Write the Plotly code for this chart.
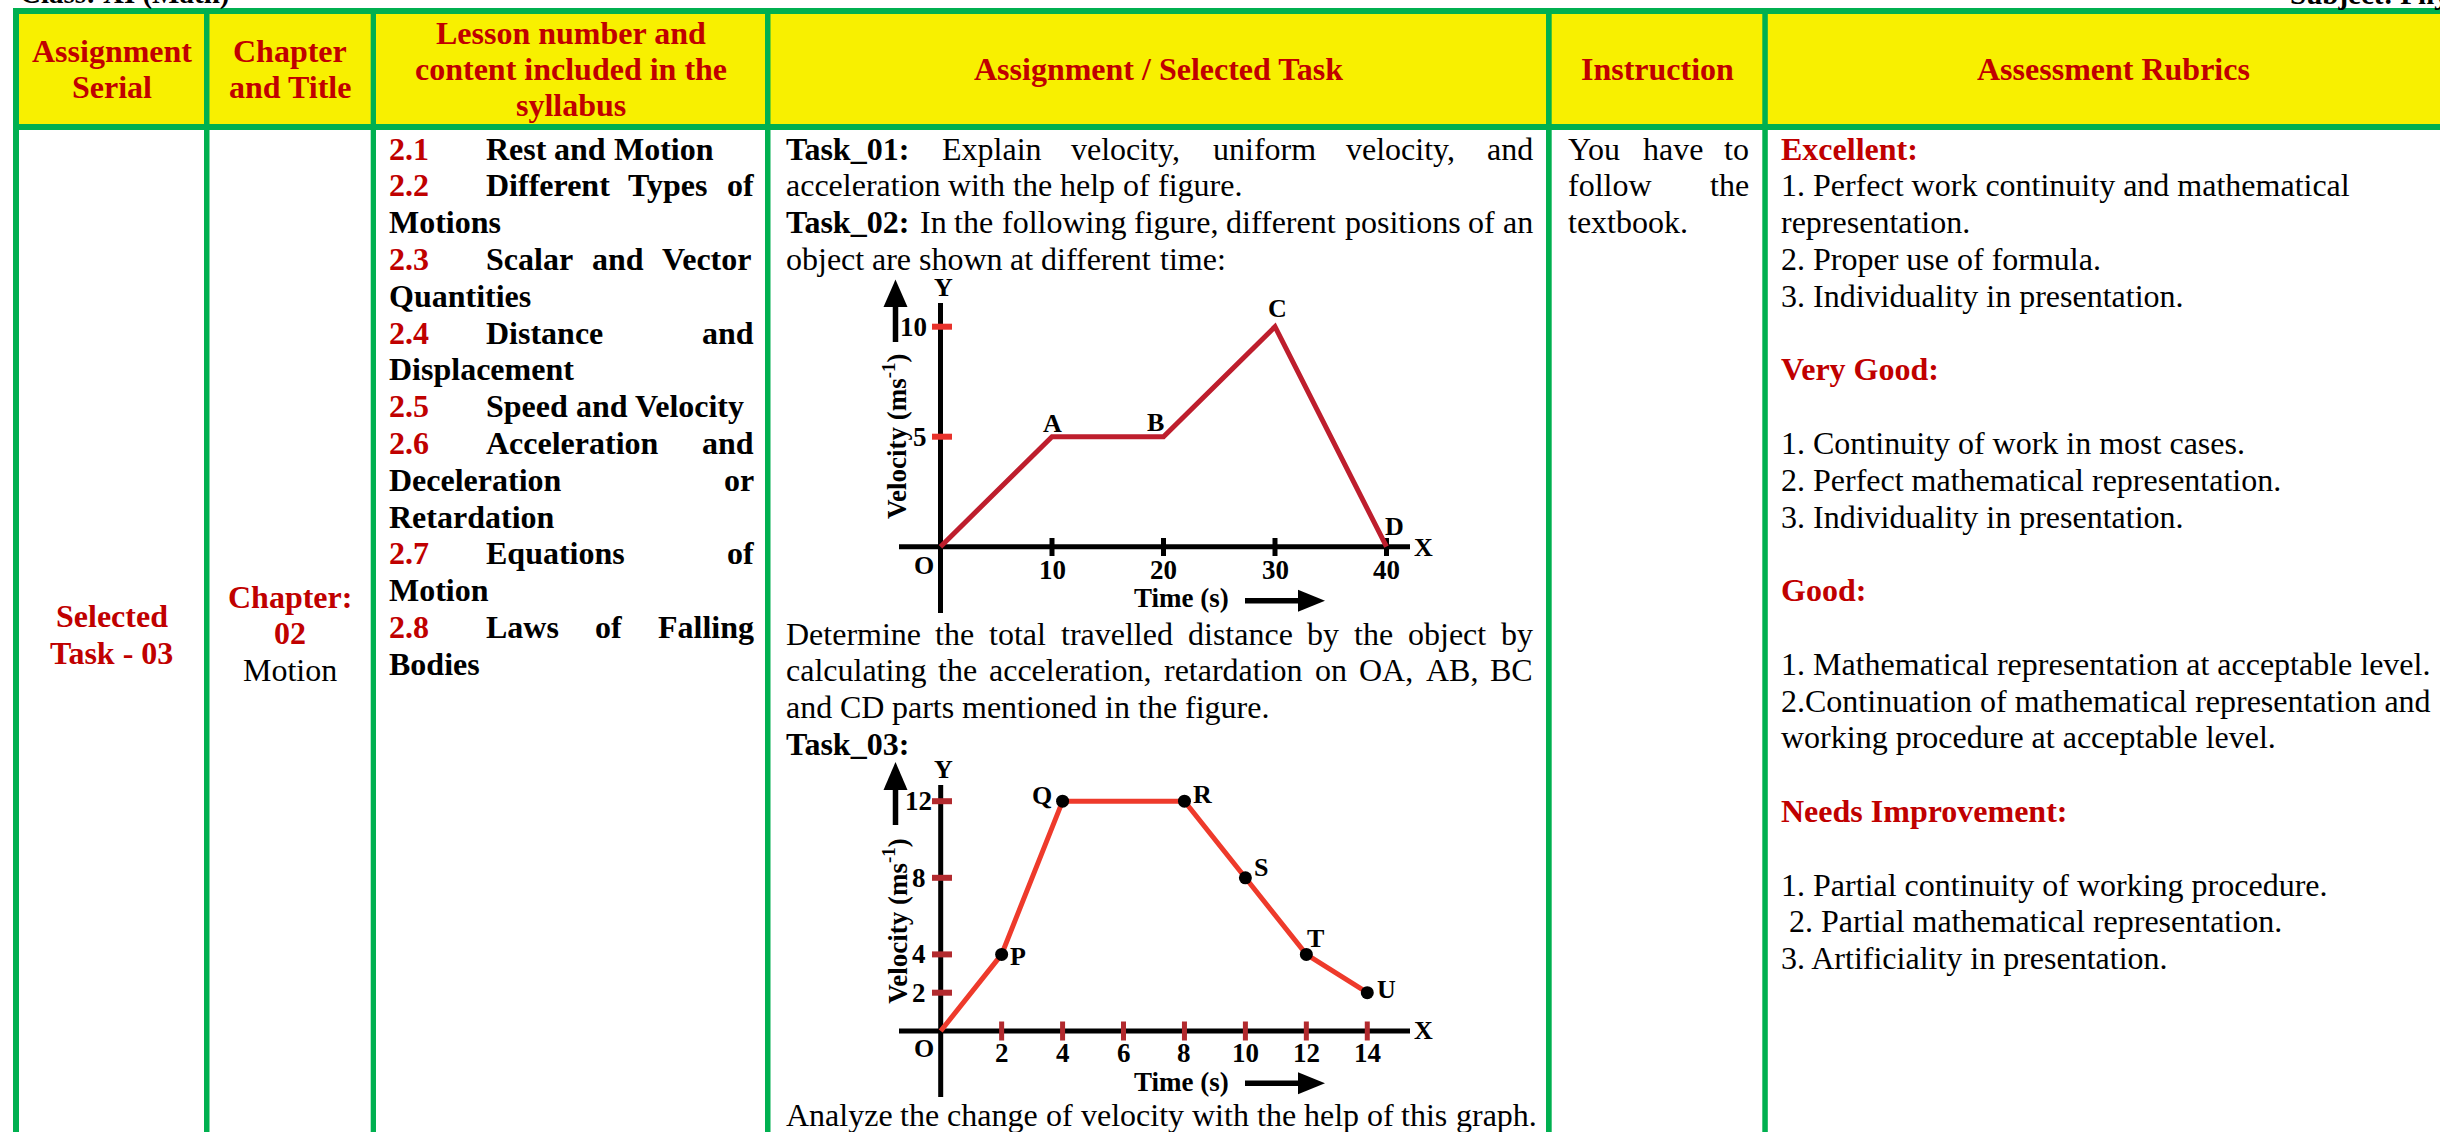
import plotly.graph_objects as go

W, H = 2440, 1132
SERIF = "Liberation Serif"
RED = "#C00000"
GREEN = "#00B050"
YELLOW = "#F8F000"
FS = 32

# ---------------- data ----------------
page_class = "Class: XI (Math)"
page_subject = "Subject: Physics"

header_cells = [
    ["Assignment", "Serial"],
    ["Chapter", "and Title"],
    ["Lesson number and", "content included in the", "syllabus"],
    ["Assignment / Selected Task"],
    ["Instruction"],
    ["Assessment Rubrics"],
]
serial_lines = ["Selected", "Task - 03"]
chapter_lines = ["Chapter:", "02", "Motion"]

lesson_numbers = ["2.1", "2.2", "2.3", "2.4", "2.5", "2.6", "2.7", "2.8"]
lesson_titles = [
    "Rest and Motion",
    "Different Types of Motions",
    "Scalar and Vector Quantities",
    "Distance and Displacement",
    "Speed and Velocity",
    "Acceleration and Deceleration or Retardation",
    "Equations of Motion",
    "Laws of Falling Bodies",
]

# (bold lead, text, justified)
task_block_1 = [
    ("Task_01:", "Explain velocity, uniform velocity, and", True),
    ("", "acceleration with the help of figure.", False),
    ("Task_02:", "In the following figure, different positions of an", True),
    ("", "object are shown at different time:", False),
]
task_block_2 = [
    ("", "Determine the total travelled distance by the object by", True),
    ("", "calculating the acceleration, retardation on OA, AB, BC", True),
    ("", "and CD parts mentioned in the figure.", False),
    ("Task_03:", "", False),
]
task_block_3 = [
    ("", "Analyze the change of velocity with the help of this graph.", False),
]

instruction_lines = [("You have to", True), ("follow the", True), ("textbook.", False)]

rubric_headings = ["Excellent:", "Very Good:", "Good:", "Needs Improvement:"]
rubric_items = [
    ["1. Perfect work continuity and mathematical", "representation.",
     "2. Proper use of formula.", "3. Individuality in presentation."],
    ["1. Continuity of work in most cases.", "2. Perfect mathematical representation.",
     "3. Individuality in presentation."],
    ["1. Mathematical representation at acceptable level.",
     "2.Continuation of mathematical representation and",
     "working procedure at acceptable level."],
    ["1. Partial continuity of working procedure.", "2. Partial mathematical representation.",
     "3. Artificiality in presentation."],
]

chart1_time = [0, 10, 20, 30, 40]
chart1_velocity = [0, 5, 5, 10, 0]
chart1_point_labels = ["O", "A", "B", "C", "D"]
chart1_x_ticks = [10, 20, 30, 40]
chart1_y_ticks = [5, 10]

chart2_time = [0, 2, 4, 8, 10, 12, 14]
chart2_velocity = [0, 4, 12, 12, 8, 4, 2]
chart2_point_labels = ["O", "P", "Q", "R", "S", "T", "U"]
chart2_x_ticks = [2, 4, 6, 8, 10, 12, 14]
chart2_y_ticks = [2, 4, 8, 12]

# ---------------- font metrics (Times-compatible) ----------------
TR = {' ': 250, '!': 333, '(': 333, ')': 333, ',': 250, '-': 333, '.': 250, '/': 278, ':': 278,
      ';': 278, '_': 500,
      'A': 722, 'B': 667, 'C': 667, 'D': 722, 'E': 611, 'F': 556, 'G': 722, 'H': 722, 'I': 333,
      'J': 389, 'K': 722, 'L': 611, 'M': 889, 'N': 722, 'O': 722, 'P': 556, 'Q': 722, 'R': 667,
      'S': 556, 'T': 611, 'U': 722, 'V': 722, 'W': 944, 'X': 722, 'Y': 722, 'Z': 611,
      'a': 444, 'b': 500, 'c': 444, 'd': 500, 'e': 444, 'f': 333, 'g': 500, 'h': 500, 'i': 278,
      'j': 278, 'k': 500, 'l': 278, 'm': 778, 'n': 500, 'o': 500, 'p': 500, 'q': 500, 'r': 333,
      's': 389, 't': 278, 'u': 500, 'v': 500, 'w': 722, 'x': 500, 'y': 500, 'z': 444}
TB = {' ': 250, '!': 333, '(': 333, ')': 333, ',': 250, '-': 333, '.': 250, '/': 278, ':': 333,
      ';': 333, '_': 500,
      'A': 722, 'B': 667, 'C': 722, 'D': 722, 'E': 667, 'F': 611, 'G': 778, 'H': 778, 'I': 389,
      'J': 500, 'K': 778, 'L': 667, 'M': 944, 'N': 722, 'O': 778, 'P': 611, 'Q': 778, 'R': 722,
      'S': 556, 'T': 667, 'U': 722, 'V': 722, 'W': 1000, 'X': 722, 'Y': 722, 'Z': 667,
      'a': 500, 'b': 556, 'c': 444, 'd': 556, 'e': 444, 'f': 333, 'g': 500, 'h': 556, 'i': 278,
      'j': 333, 'k': 556, 'l': 278, 'm': 833, 'n': 556, 'o': 500, 'p': 556, 'q': 556, 'r': 444,
      's': 389, 't': 333, 'u': 556, 'v': 500, 'w': 722, 'x': 500, 'y': 500, 'z': 444}


def tw(s, bold, size):
    table = TB if bold else TR
    return sum(table.get(ch, 500) for ch in s) * size / 1000.0


annotations = []
shapes = []


def txt(x, y, text, size=FS, color="black", bold=False, xanchor="left", angle=0):
    t = "<b>%s</b>" % text if bold else text
    annotations.append(dict(
        x=x / W, y=1 - y / H, xref="paper", yref="paper", text=t, showarrow=False,
        xanchor=xanchor, yanchor="middle", borderpad=0, borderwidth=0, textangle=angle,
        font=dict(family=SERIF, size=size, color=color)))


def place(y, x0, x1, words, justify, size=FS):
    widths = [tw(w, b, size) for w, b, c in words]
    if justify and len(words) > 1:
        gap = (x1 - x0 - sum(widths)) / (len(words) - 1)
    else:
        gap = 0.25 * size
    x = x0
    for (w, b, c), wd in zip(words, widths):
        txt(x, y, w, size, c, b)
        x += wd + gap


def rect(x0, y0, x1, y1, color):
    shapes.append(dict(type="rect", xref="paper", yref="paper", x0=x0 / W, x1=x1 / W,
                       y0=1 - y1 / H, y1=1 - y0 / H, fillcolor=color,
                       line=dict(width=0), layer="below"))


def poly(points, color):
    p = "M " + " L ".join("%.6f,%.6f" % (x / W, 1 - y / H) for x, y in points) + " Z"
    shapes.append(dict(type="path", xref="paper", yref="paper", path=p, fillcolor=color,
                       line=dict(width=0), layer="above"))


def up_arrow(x, tip, head_base, bottom, half=12, shaft=5.5):
    poly([(x - shaft / 2, head_base - 1), (x + shaft / 2, head_base - 1),
          (x + shaft / 2, bottom), (x - shaft / 2, bottom)], "black")
    poly([(x, tip), (x - half, head_base), (x + half, head_base)], "black")


def right_arrow(y, left, head_base, tip, half=11, shaft=5.5):
    poly([(left, y - shaft / 2), (head_base + 1, y - shaft / 2),
          (head_base + 1, y + shaft / 2), (left, y + shaft / 2)], "black")
    poly([(tip, y), (head_base, y - half), (head_base, y + half)], "black")


# ---------------- table frame ----------------
rect(19, 14, W, 124, YELLOW)
rect(13, 8, W, 14, GREEN)          # top border
rect(13, 124, W, 130, GREEN)       # header bottom
for xl, xr in [(13, 19), (204, 209.5), (370.7, 376), (765, 770.5), (1546, 1551.7), (1762.3, 1767.8)]:
    rect(xl, 8, xr, H, GREEN)

# page titles (cut off at the top)
txt(20, -6.3, page_class, 29, "black", True)
txt(2290, -6.3, page_subject, 29, "black", True)

# header row
col_centers = [111.5, 290, 570.5, 1158.5, 1657, 2113]
for cx, lines in zip(col_centers, header_cells):
    n = len(lines)
    for i, ln in enumerate(lines):
        txt(cx, 69 + 36 * (i - (n - 1) / 2), ln, FS, RED, True, "center")

# serial / chapter cells
for i, ln in enumerate(serial_lines):
    txt(111.5, 616 + 36.5 * i, ln, FS, RED, True, "center")
for i, ln in enumerate(chapter_lines):
    last = i == len(chapter_lines) - 1
    txt(290, 596.5 + 36.8 * i, ln, FS, "black" if last else RED, not last, "center")

BODY_TOP = 148.5
PITCH = 36.8


def body_y(k):
    return BODY_TOP + PITCH * k


# lessons column (word-wrapped, justified)
LES_NUM_X, LES_TXT_X, LES_LEFT, LES_RIGHT = 389, 486, 389, 754
k = 0
for num, title in zip(lesson_numbers, lesson_titles):
    words = title.split()
    lines, cur, avail = [], [], LES_RIGHT - LES_TXT_X
    for w in words:
        trial = cur + [w]
        if cur and tw(" ".join(trial), True, FS) > avail + 1:
            lines.append(cur)
            cur = [w]
            avail = LES_RIGHT - LES_LEFT
        else:
            cur = trial
    lines.append(cur)
    for i, ln in enumerate(lines):
        y = body_y(k)
        if i == 0:
            txt(LES_NUM_X, y, num, FS, RED, True)
            x0 = LES_TXT_X
        else:
            x0 = LES_LEFT
        place(y, x0, LES_RIGHT, [(w, True, "black") for w in ln], i < len(lines) - 1)
        k += 1

# task column
TASK_L, TASK_R = 785.5, 1533


def task_block(block, y0):
    for i, (lead, text, just) in enumerate(block):
        words = []
        if lead:
            words.append((lead, True, "black"))
        words += [(w, False, "black") for w in text.split()]
        place(y0 + PITCH * i, TASK_L, TASK_R, words, just)


task_block(task_block_1, BODY_TOP)
task_block(task_block_2, 633.5)
task_block(task_block_3, 1115)

# instruction column
for i, (ln, just) in enumerate(instruction_lines):
    place(body_y(i), 1568, 1749, [(w, False, "black") for w in ln.split()], just)

# rubric column
RUB_X = 1781
k = 0
for si, (head, items) in enumerate(zip(rubric_headings, rubric_items)):
    txt(RUB_X, body_y(k), head, FS, RED, True)
    k += 1 if si == 0 else 2
    for it in items:
        indent = 8 if it.startswith("2. Partial") else 0
        txt(RUB_X + indent, body_y(k), it, FS, "black", False)
        k += 1
    k += 1

# ---------------- embedded charts ----------------
fig = go.Figure()


def axes_for(box, origin, sx, sy):
    x0, y0, x1, y1 = box
    ox, oy = origin
    xa = dict(domain=[x0 / W, x1 / W], range=[(x0 - ox) / sx, (x1 - ox) / sx],
              visible=False, fixedrange=True)
    ya = dict(domain=[1 - y1 / H, 1 - y0 / H], range=[(oy - y1) / sy, (oy - y0) / sy],
              visible=False, fixedrange=True)
    return xa, ya


LBL = 26
TICKF = 27


def draw_chart(xr, yr, origin, sx, sy, t, v, labels, xticks, yticks, line_color,
               ytick_color, xtick_color, markers, ytop_px, ybot_px, label_offsets,
               ytick_anchor, ytick_xpx, xtick_ypx, xtick_span):
    ox, oy = origin

    def dx(px):
        return (px - ox) / sx

    def dy(py):
        return (oy - py) / sy

    common = dict(xaxis=xr, yaxis=yr, hoverinfo="skip", showlegend=False)
    fig.add_trace(go.Scatter(x=[0, 0], y=[dy(ybot_px), dy(ytop_px)], mode="lines",
                             line=dict(color="black", width=5), **common))
    fig.add_trace(go.Scatter(x=[dx(899), dx(1410)], y=[0, 0], mode="lines",
                             line=dict(color="black", width=5), **common))
    xs, ys = [], []
    for tv in xticks:
        xs += [tv, tv, None]
        ys += [dy(xtick_span[0]), dy(xtick_span[1]), None]
    fig.add_trace(go.Scatter(x=xs, y=ys, mode="lines", line=dict(color=xtick_color, width=5),
                             **common))
    xs, ys = [], []
    for tv in yticks:
        xs += [dx(932), dx(952), None]
        ys += [tv, tv, None]
    fig.add_trace(go.Scatter(x=xs, y=ys, mode="lines", line=dict(color=ytick_color, width=6),
                             **common))
    fig.add_trace(go.Scatter(x=t, y=v, mode="lines", line=dict(color=line_color, width=5),
                             **common))
    if markers:
        fig.add_trace(go.Scatter(x=t[1:], y=v[1:], mode="markers",
                                 marker=dict(color="black", size=13), **common))
    for tv in xticks:
        annotations.append(dict(x=tv, y=0, xref=xr, yref=yr, text="<b>%d</b>" % tv,
                                showarrow=False, xanchor="center", yanchor="middle",
                                yshift=-(xtick_ypx - oy), borderpad=0,
                                font=dict(family=SERIF, size=TICKF, color="black")))
    for tv in yticks:
        annotations.append(dict(x=0, y=tv, xref=xr, yref=yr, text="<b>%d</b>" % tv,
                                showarrow=False, xanchor=ytick_anchor, yanchor="middle",
                                xshift=ytick_xpx - ox, borderpad=0,
                                font=dict(family=SERIF, size=TICKF, color="black")))
    for lab, tv, vv, (ofx, ofy) in zip(labels, t, v, label_offsets):
        annotations.append(dict(x=tv, y=vv, xref=xr, yref=yr, text="<b>%s</b>" % lab,
                                showarrow=False, xanchor="center", yanchor="middle",
                                xshift=ofx, yshift=-ofy, borderpad=0,
                                font=dict(family=SERIF, size=LBL, color="black")))


# chart 1
O1, SX1, SY1 = (940.5, 546.7), 11.15, 22.0
xa1, ya1 = axes_for((860, 268, 1440, 625), O1, SX1, SY1)
draw_chart("x", "y", O1, SX1, SY1, chart1_time, chart1_velocity, chart1_point_labels,
           chart1_x_ticks, chart1_y_ticks, "#BE1E2D", "#E8322B", "black", False,
           303, 613, [(-16.5, 18.3), (0, -13.5), (-8, -14), (2.7, -18.7), (7.5, -20.7)],
           "right", 928, 570, (538, 556))
# chart 2
O2, SX2, SY2 = (940.7, 1031), 30.47, 19.15
xa2, ya2 = axes_for((860, 750, 1440, 1105), O2, SX2, SY2)
draw_chart("x2", "y2", O2, SX2, SY2, chart2_time, chart2_velocity, chart2_point_labels,
           chart2_x_ticks, chart2_y_ticks, "#EE3A2B", "#B22A2E", "#B22A2E", True,
           785, 1097,
           [(-16.7, 17), (16.3, 2.5), (-20.6, -5.6), (18.2, -6.6), (15.2, -10.7),
            (9.5, -16.2), (19.1, -3.6)],
           "center", 918.5, 1053.3, (1021.5, 1040.5))

# chart decorations (axis letters, titles, arrows)
for cy_y, cy_x, ttl_y, time_y, arr in [(287, 547, 437, 598, (279.5, 307, 342, 600.7)),
                                       (769.3, 1030, 921.7, 1081.7, (762, 790, 825, 1083.3))]:
    txt(943, cy_y, "Y", LBL, "black", True, "center")
    txt(1423, cy_x, "X", LBL, "black", True, "center")
    txt(895, ttl_y, "Velocity (ms<sup>-1</sup>)", TICKF, "black", True, "center", -90)
    txt(1181.7, time_y, "Time (s)", TICKF, "black", True, "center")
    up_arrow(895.5, arr[0], arr[1], arr[2])
    right_arrow(arr[3], 1245, 1298, 1325)

fig.update_layout(
    width=W, height=H, margin=dict(l=0, r=0, t=0, b=0),
    paper_bgcolor="white", plot_bgcolor="rgba(0,0,0,0)", showlegend=False,
    xaxis=dict(xa1, anchor="y"), yaxis=dict(ya1, anchor="x"),
    xaxis2=dict(xa2, anchor="y2"), yaxis2=dict(ya2, anchor="x2"),
    annotations=annotations, shapes=shapes,
)

fig.write_html("out.html", config={"displayModeBar": False},
               post_script="document.body.style.margin='0';document.body.style.overflow='hidden';")
